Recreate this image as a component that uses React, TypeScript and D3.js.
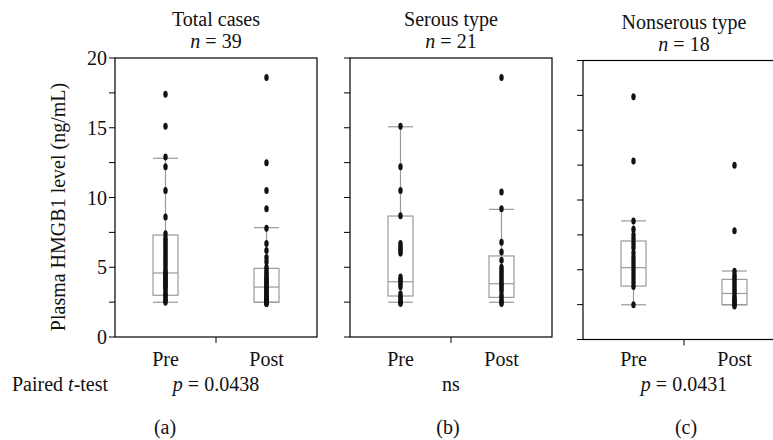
import { scaleLinear, scalePoint, range } from "d3";

const W = 773;
const H = 440;
const FONT = "Liberation Serif, serif";

const groups = ["Pre", "Post"];
const titles = ["Total cases", "Serous type", "Nonserous type"];
const nCounts = [39, 21, 18];
const pLabels = ["p = 0.0438", "ns", "p = 0.0431"];
const panelTags = ["(a)", "(b)", "(c)"];
const yMajorTicks = [0, 5, 10, 15, 20];

// raw points
const totalPre = [17.4, 15.1, 12.9, 12.2, 10.5, 8.6, 7.4, 7.1, 6.9, 6.7, 6.5, 6.3, 6.1, 5.9, 5.7, 5.5, 5.3, 5.1, 4.9, 4.7, 4.6, 4.5, 4.4, 4.3, 4.2, 4.1, 4.0, 3.9, 3.8, 3.7, 3.6, 3.5, 3.3, 3.1, 3.0, 2.9, 2.7, 2.6, 2.5];
const totalPost = [18.6, 12.5, 10.5, 9.2, 7.8, 6.7, 6.2, 5.7, 5.4, 5.0, 4.8, 4.6, 4.5, 4.3, 4.2, 4.1, 4.0, 3.9, 3.8, 3.7, 3.6, 3.5, 3.4, 3.3, 3.2, 3.1, 3.0, 2.9, 2.8, 2.8, 2.7, 2.7, 2.6, 2.6, 2.5, 2.5, 2.5, 2.4, 2.4];
const serousPre = [15.1, 12.2, 10.5, 8.7, 6.7, 6.5, 6.3, 6.2, 6.0, 4.3, 4.1, 4.0, 3.8, 3.6, 3.1, 2.9, 2.8, 2.6, 2.5, 2.5, 2.4];
const serousPost = [18.6, 10.4, 9.2, 6.8, 6.1, 5.5, 5.0, 4.8, 4.6, 4.4, 4.2, 4.0, 3.8, 3.7, 3.5, 3.3, 3.0, 2.8, 2.6, 2.5, 2.4];
const nonserousPre = [17.4, 12.8, 8.5, 7.9, 7.5, 7.2, 6.9, 6.6, 6.2, 5.9, 5.6, 5.3, 5.0, 4.7, 4.4, 4.1, 3.8, 2.5];
const nonserousPost = [12.5, 7.8, 4.9, 4.6, 4.4, 4.2, 4.0, 3.8, 3.6, 3.4, 3.2, 3.0, 2.9, 2.8, 2.7, 2.6, 2.5, 2.4];

// box stats per panel: [Pre, Post]
const q1 = [[2.99, 2.49], [2.94, 2.84], [3.83, 2.49]];
const medians = [[4.59, 3.58], [3.96, 3.82], [5.15, 3.3]];
const q3 = [[7.31, 4.92], [8.67, 5.81], [7.06, 4.31]];
const whiskLow = [[2.49, 2.49], [2.49, 2.49], [2.49, 2.49]];
const whiskHigh = [[12.81, 7.84], [15.07, 9.15], [8.5, 4.91]];

const points = [
  [totalPre, totalPost],
  [serousPre, serousPost],
  [nonserousPre, nonserousPost],
];

const panelLeft = [115, 350, 583];
const panelShift = [0, 0, 2.5];
const PW = 202;
const TOP = 58;
const BOTTOM = 337;
const BOX_W = 25;
const GRAY = "#9a9a9a";
const txt = { fontFamily: FONT, fontSize: 20, fill: "#111" };

function Panel({ i }: { i: number }) {
  const x0 = panelLeft[i];
  const dy = panelShift[i];
  const y = scaleLinear().domain([0, 20]).range([BOTTOM + dy, TOP + dy]);
  const x = scalePoint<string>().domain(groups).range([x0, x0 + PW]).padding(0.5);
  const cx = x0 + PW / 2;
  return (
    <g>
      {range(0, 20.01, 2.5).map((t) => (
        <line key={t} x1={x0 - 6} x2={x0} y1={y(t)} y2={y(t)} stroke="#000" strokeWidth={1} />
      ))}
      {i === 0 &&
        yMajorTicks.map((t) => (
          <text key={t} x={x0 - 8} y={y(t) + 7} textAnchor="end" style={txt}>
            {t}
          </text>
        ))}
      <rect x={x0} y={TOP + dy} width={PW} height={BOTTOM - TOP} fill="none" stroke="#000" strokeWidth={1.2} />
      <line x1={cx} x2={cx} y1={BOTTOM + dy} y2={BOTTOM + dy + 6} stroke="#000" strokeWidth={1} />
      {groups.map((g, k) => {
        const gx = x(g) as number;
        return (
          <g key={g}>
            <line x1={gx} x2={gx} y1={y(whiskLow[i][k])} y2={y(whiskHigh[i][k])} stroke={GRAY} strokeWidth={1.2} />
            <rect
              x={gx - BOX_W / 2}
              y={y(q3[i][k])}
              width={BOX_W}
              height={y(q1[i][k]) - y(q3[i][k])}
              fill="#fff"
              stroke={GRAY}
              strokeWidth={1.2}
            />
            <line x1={gx - BOX_W / 2} x2={gx + BOX_W / 2} y1={y(medians[i][k])} y2={y(medians[i][k])} stroke={GRAY} strokeWidth={1.2} />
            <line x1={gx - BOX_W / 2} x2={gx + BOX_W / 2} y1={y(whiskHigh[i][k])} y2={y(whiskHigh[i][k])} stroke={GRAY} strokeWidth={1.2} />
            <line x1={gx - BOX_W / 2} x2={gx + BOX_W / 2} y1={y(whiskLow[i][k])} y2={y(whiskLow[i][k])} stroke={GRAY} strokeWidth={1.2} />
            {points[i][k].map((v, j) => (
              <ellipse key={j} cx={gx} cy={y(v)} rx={2.2} ry={3.5} fill="#111" />
            ))}
            <text x={gx} y={366} textAnchor="middle" style={txt}>
              {g}
            </text>
          </g>
        );
      })}
      <text x={cx} y={26 + dy} textAnchor="middle" style={txt}>
        {titles[i]}
      </text>
      <text x={cx} y={48 + dy} textAnchor="middle" style={txt}>
        <tspan fontStyle="italic">n</tspan> = {nCounts[i]}
      </text>
      <text x={cx} y={391} textAnchor="middle" style={txt}>
        {pLabels[i].startsWith("p") ? (
          <>
            <tspan fontStyle="italic">p</tspan>
            {pLabels[i].slice(1)}
          </>
        ) : (
          pLabels[i]
        )}
      </text>
    </g>
  );
}

const tagX = [165, 448, 686];

export default function App() {
  return (
    <svg width={W} height={H} style={{ position: "absolute", left: 0, top: 0, background: "#fff" }}>
      {titles.map((_, i) => (
        <Panel key={i} i={i} />
      ))}
      <text transform="translate(65,207) rotate(-90)" textAnchor="middle" style={txt}>
        Plasma HMGB1 level (ng/mL)
      </text>
      <text x={12} y={391} style={txt}>
        Paired <tspan fontStyle="italic">t</tspan>-test
      </text>
      {panelTags.map((t, i) => (
        <text key={t} x={tagX[i]} y={434} textAnchor="middle" style={txt}>
          {t}
        </text>
      ))}
    </svg>
  );
}
